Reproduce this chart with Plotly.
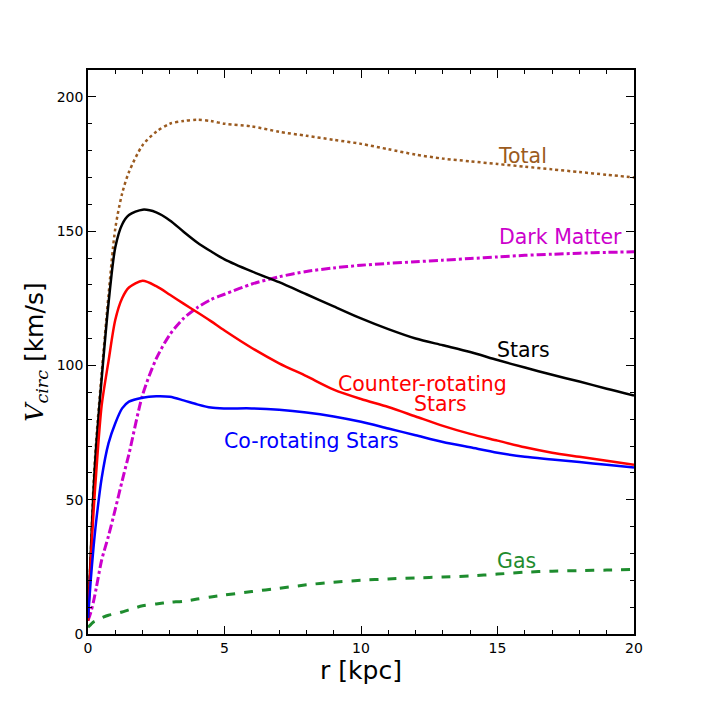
import plotly.graph_objects as go

# radius grid [kpc]
r = [0, 0.1, 0.2, 0.3, 0.5, 0.75, 1, 1.25, 1.5, 2, 2.5, 3, 3.5, 4, 4.5, 5,
     6, 7, 8, 9, 10, 11, 12, 13, 14, 15, 16, 17, 18, 19, 20]

# circular velocities [km/s]
v_total = [5, 30, 55, 72, 97, 126, 151, 164, 172, 182, 187, 190, 191, 191.5, 191, 190,
           189, 187, 185.5, 184, 182.5, 180.5, 178.5, 177, 176, 175, 174, 173, 172, 171, 170]
v_stars = [5, 30, 53, 70, 95, 123, 144, 152.5, 156, 158, 157, 154, 149.8, 145.8, 142.5, 139.5,
           135, 131, 126.5, 122, 117.5, 113.5, 110, 107.5, 105, 102, 99.2, 96.5, 94, 91.3, 88.8]
v_counter = [5, 27, 45, 60, 85, 101.5, 117, 125, 129, 131.5, 129.5, 126.3, 123, 119.8, 116.5, 113,
             106.5, 100.8, 96, 91, 87.5, 84.5, 81, 77.5, 74.5, 72, 69.5, 67.5, 66, 64.5, 63]
v_co = [6, 20, 32, 42, 58, 71, 78.5, 84, 86.5, 88, 88.5, 88.3, 87, 85.5, 84.3, 84,
        84, 83.5, 82.5, 81, 79, 76.5, 74, 71.5, 69.5, 67.5, 66, 65, 64, 63, 62]
v_dm = [5, 8, 12, 17, 27.5, 36.5, 46.5, 57, 67, 89, 102.5, 111.5, 117.5, 121.5, 124.5, 126.5,
        130.3, 133, 135, 136.3, 137.3, 138, 138.6, 139.2, 139.8, 140.4, 141, 141.4, 141.8, 142.1, 142.3]
v_gas = [2.5, 3.5, 4.5, 5, 6, 7, 7.5, 8.2, 9, 10.5, 11.2, 11.8, 12.2, 13, 13.8, 14.5,
         15.8, 17, 18.3, 19.3, 20, 20.5, 20.9, 21.2, 21.6, 22.3, 23, 23.4, 23.6, 23.8, 24]

brown = "#9B5B20"
magenta = "#CC00CC"
green = "#1E8C2E"


def curve(y, color, width, dash="solid"):
    return go.Scatter(x=r, y=y, mode="lines",
                      line=dict(color=color, width=width, dash=dash, shape="spline", smoothing=0.8))


fig = go.Figure()
fig.add_trace(curve(v_total, brown, 2.5, "dot"))
fig.add_trace(curve(v_dm, magenta, 3, "dashdot"))
fig.add_trace(curve(v_stars, "black", 2.5))
fig.add_trace(curve(v_counter, "red", 2.5))
fig.add_trace(curve(v_co, "blue", 2.5))
fig.add_trace(curve(v_gas, green, 3, "dash"))

labels = [
    ("Total", 15.93, 178, brown),
    ("Dark Matter", 17.3, 147.8, magenta),
    ("Stars", 15.97, 105.6, "black"),
    ("Counter-rotating", 12.27, 93.2, "red"),
    ("Stars", 12.9, 85.6, "red"),
    ("Co-rotating Stars", 8.2, 72, "blue"),
    ("Gas", 15.7, 27.2, green),
]
for txt, x, y, c in labels:
    fig.add_annotation(x=x, y=y, text=txt, showarrow=False,
                       font=dict(color=c, size=20.5, family="DejaVu Sans"))

axis_common = dict(showgrid=False, zeroline=False, showline=True, linecolor="black",
                   linewidth=1.5, mirror="ticks", ticks="inside", ticklen=8,
                   tickcolor="black", tickwidth=1,
                   tickfont=dict(size=14, family="DejaVu Sans", color="black"))

fig.update_xaxes(range=[0, 20], dtick=5, tick0=0,
                 minor=dict(dtick=1, ticks="inside", ticklen=4, tickcolor="black"),
                 title=dict(text="r [kpc]", font=dict(size=25, family="DejaVu Sans", color="black"),
                            standoff=2),
                 **axis_common)
fig.update_yaxes(range=[0, 210], dtick=50, tick0=0,
                 minor=dict(dtick=10, ticks="inside", ticklen=4, tickcolor="black"),
                 title=dict(text="<span style='font-family:DejaVu Serif'><i>V</i><sub><i>circ</i></sub></span> [km/s]",
                            font=dict(size=25, family="DejaVu Sans", color="black"),
                            standoff=6),
                 **axis_common)

fig.update_layout(width=706, height=707, showlegend=False,
                  plot_bgcolor="white", paper_bgcolor="white",
                  margin=dict(l=80, r=80, t=62, b=81))

fig.write_html("out.html")
